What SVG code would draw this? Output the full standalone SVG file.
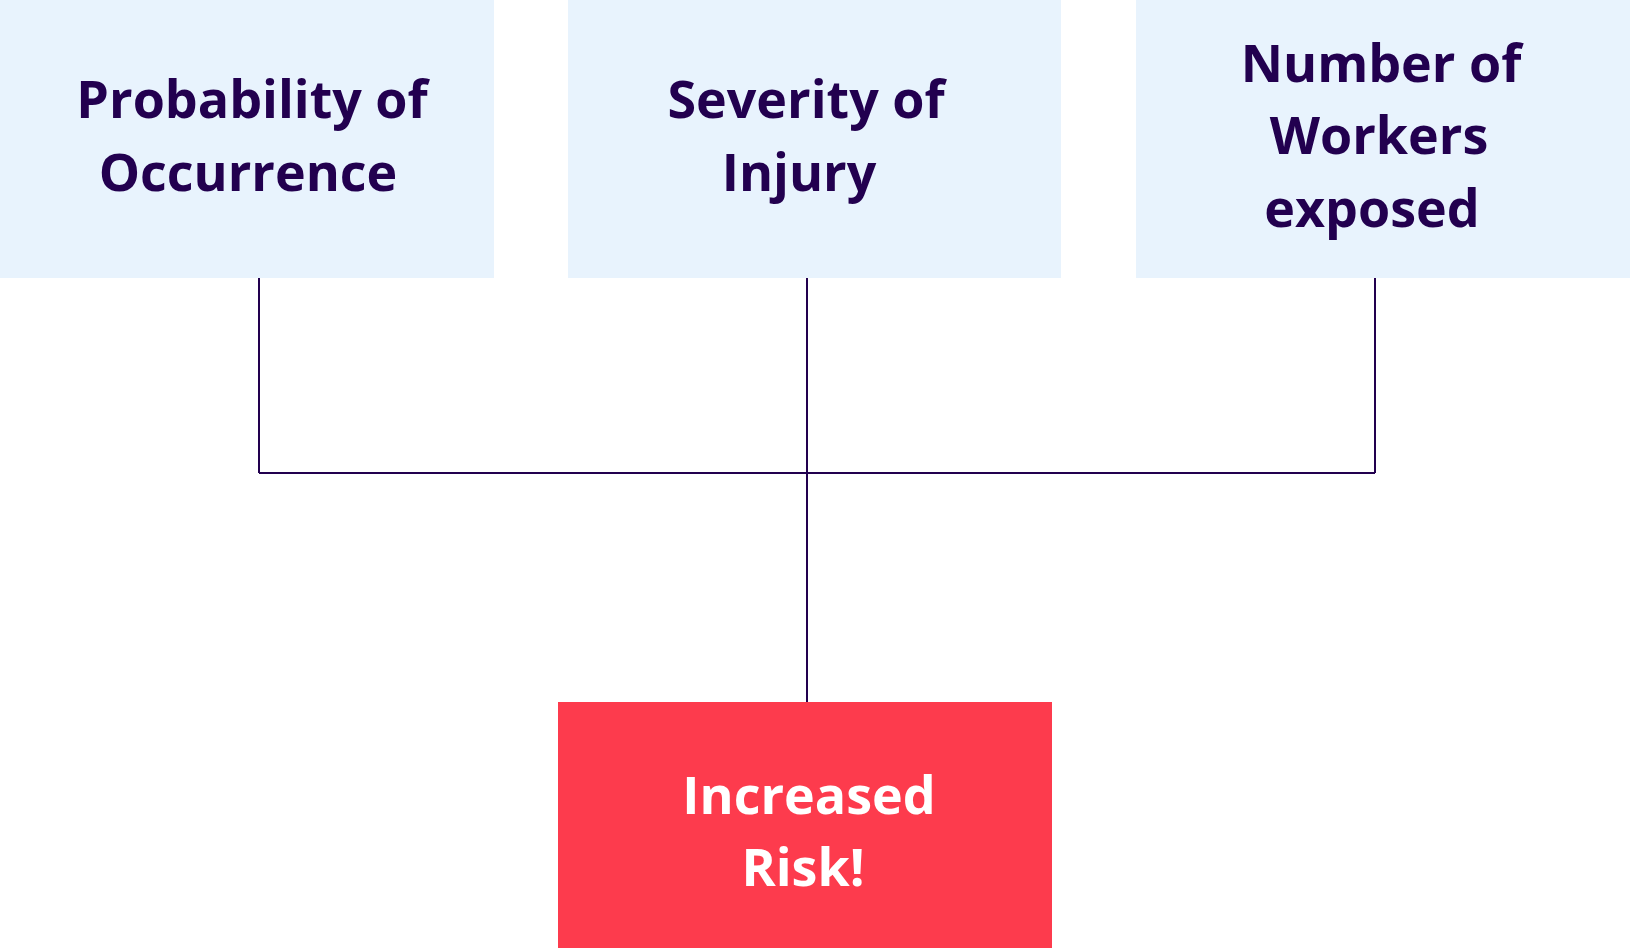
<svg xmlns="http://www.w3.org/2000/svg" width="1630" height="948" viewBox="0 0 1630 948">
<style>
.box{fill:#e8f3fd}
.risk{fill:#fd3b4d}
.t{font-family:"Open Sans","Liberation Sans",sans-serif;font-weight:700;font-size:52px;text-anchor:middle;fill:#22004f}
.w{fill:#ffffff}
.c{stroke:#22004f;stroke-width:2;fill:none}
</style>
<rect width="1630" height="948" fill="#ffffff"/>
<g id="connectors">
<path class="c" d="M259 278V473M807 278V702M1375 278V473M259 473H1375"/>
</g>
<g id="n1">
<rect class="box" x="0" y="0" width="494" height="278"/>
<text class="t" x="252" y="118">Probability of</text>
<text class="t" x="248" y="191">Occurrence</text>
</g>
<g id="n2">
<rect class="box" x="568" y="0" width="493" height="278"/>
<text class="t" x="806" y="118">Severity of</text>
<text class="t" x="799" y="191">Injury</text>
</g>
<g id="n3">
<rect class="box" x="1136" y="0" width="494" height="278"/>
<text class="t" x="1381" y="82">Number of</text>
<text class="t" x="1379" y="154">Workers</text>
<text class="t" x="1372" y="227">exposed</text>
</g>
<g id="n4">
<rect class="risk" x="558" y="702" width="494" height="246"/>
<text class="t w" x="809" y="814">Increased</text>
<text class="t w" x="803" y="886">Risk!</text>
</g>
</svg>
